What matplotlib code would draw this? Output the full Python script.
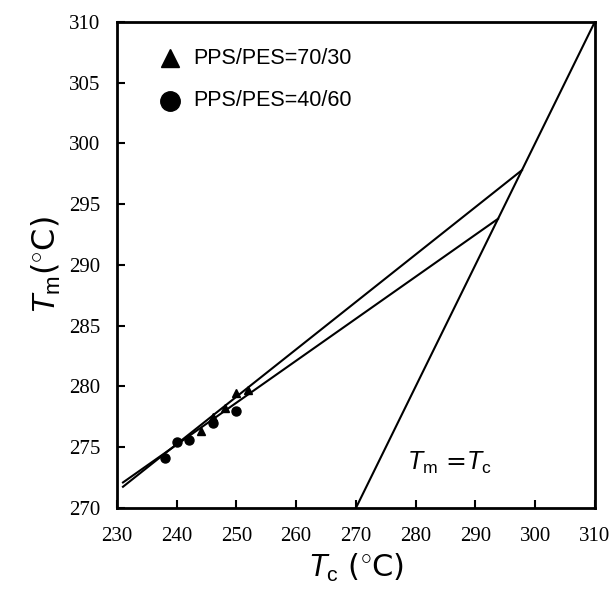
import matplotlib
matplotlib.use("Agg")
import matplotlib.pyplot as plt
import numpy as np

plt.rcParams['mathtext.fontset'] = 'custom'
plt.rcParams['mathtext.rm'] = 'Liberation Sans'
plt.rcParams['mathtext.it'] = 'Liberation Sans:italic'

# PPS/PES = 70/30 (triangles)
tc_7030 = [244, 246, 248, 250, 252]
tm_7030 = [276.3, 277.5, 278.2, 279.5, 279.7]
# PPS/PES = 40/60 (circles)
tc_4060 = [238, 240, 242, 246, 250]
tm_4060 = [274.1, 275.4, 275.6, 277.0, 278.0]

# Hoffman-Weeks extrapolation: slope and equilibrium melting point
slope_7030, tm0_7030 = 0.390, 297.8
slope_4060, tm0_4060 = 0.3455, 293.8
tc_start = 231

xticks = [230, 240, 250, 260, 270, 280, 290, 300, 310]
yticks = [270, 275, 280, 285, 290, 295, 300, 305, 310]

fig = plt.figure(figsize=(6.11, 5.95), dpi=100)
ax = fig.add_axes([0.1915, 0.1462, 0.782, 0.817])

# Tm = Tc line
ax.plot([270, 310], [270, 310], color='black', lw=1.5)

# fitted lines
x = np.array([tc_start, tm0_7030])
ax.plot(x, tm0_7030 + slope_7030 * (x - tm0_7030), color='black', lw=1.5)
x = np.array([tc_start, tm0_4060])
ax.plot(x, tm0_4060 + slope_4060 * (x - tm0_4060), color='black', lw=1.5)

ax.plot(tc_7030, tm_7030, '^', color='black', ms=6, ls='none')
ax.plot(tc_4060, tm_4060, 'o', color='black', ms=6.5, ls='none')

# legend drawn by hand
ax.plot([238.8], [307.0], '^', color='black', ms=13)
ax.plot([238.8], [303.5], 'o', color='black', ms=14)
ax.text(242.8, 307.0, 'PPS/PES=70/30', fontsize=15.5, family='Liberation Sans', va='center')
ax.text(242.8, 303.5, 'PPS/PES=40/60', fontsize=15.5, family='Liberation Sans', va='center')

ax.text(278.5, 273.7, r'$T_{\rm m}$ =$T_{\rm c}$', fontsize=18, va='center')

ax.set_xlim(230, 310)
ax.set_ylim(270, 310)
ax.set_xticks(xticks)
ax.set_yticks(yticks)
ax.tick_params(direction='in', length=6, width=1.5, labelsize=15)
ax.tick_params(axis='x', pad=14)
ax.tick_params(axis='y', pad=12)
for lab in ax.get_xticklabels() + ax.get_yticklabels():
    lab.set_family('Liberation Serif')
for s in ax.spines.values():
    s.set_linewidth(2)

ax.set_xlabel(r'$T_{\rm c}$ ($^{\circ}$C)', fontsize=22, labelpad=4)
ax.set_ylabel(r'$T_{\rm m}$($^{\circ}$C)', fontsize=23, labelpad=4)

fig.savefig('out.png', dpi=100)
